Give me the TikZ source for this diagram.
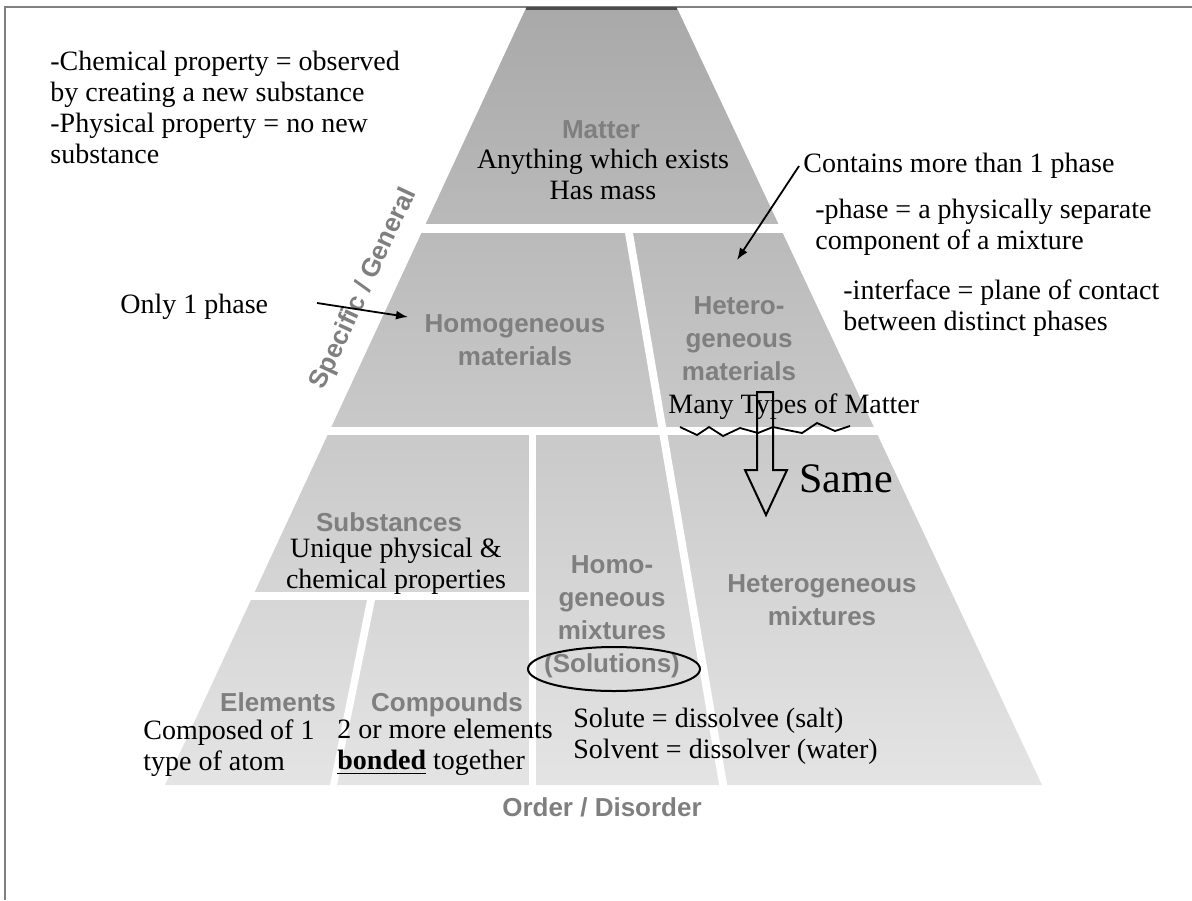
\documentclass[tikz,border=0pt]{standalone}
\usepackage{fontspec}
\setmainfont{Liberation Serif}
\newfontfamily\pyrfont{Liberation Sans}
\usepackage{tikz}
\usetikzlibrary{arrows.meta}
\definecolor{pyrtop}{HTML}{A9A9A9}
\definecolor{pyrbot}{HTML}{E4E4E4}
\definecolor{pyrtext}{HTML}{7F7F7F}
\tikzset{
  lbl/.style={font=\pyrfont\bfseries\fontsize{13}{16.5}\selectfont, text=pyrtext, align=center, inner sep=0pt},
  note/.style={font=\fontsize{14}{15.5}\selectfont, inner sep=0pt},
  ptr/.style={-{Latex[length=6pt,width=4.5pt]}, line width=0.9pt}
}

\begin{document}
\begin{tikzpicture}[x=0.5pt,y=-0.5pt]
\useasboundingbox (0,0) rectangle (1192,900);
\draw[line width=1.2pt, gray] (5,900) -- (5,7) -- (1192,7);
\shade[top color=pyrtop, bottom color=pyrbot] (526,8) -- (677,8) -- (1042,785) -- (165,785) -- cycle;
\draw[line width=1.5pt, gray!60!black] (526,8) -- (677,8);
\fill[white] (100,224) rectangle (1100,233);
\fill[white] (100,427) rectangle (1100,435);
\fill[white] (625,233) -- (633,233) -- (728,790) -- (720,790) -- cycle;
\fill[white] (529,435) rectangle (536,790);
\fill[white] (100,592) rectangle (536,600);
\fill[white] (367,600) -- (375,600) -- (336,790) -- (329,790) -- cycle;

\node[lbl] (matter) at (601,130) {Matter};
\node[lbl] (homomat) at (515,340) {Homogeneous\\materials};
\node[lbl] (hetmat) at (739,339) {Hetero-\\geneous\\materials};
\node[lbl] (subst) at (389,522) {Substances};
\node[lbl] (homomix) at (612,617) {Homo-\\geneous\\mixtures\\(Solutions)};
\node[lbl] (hetmix) at (822,600) {Heterogeneous\\mixtures};
\node[lbl, anchor=base] (elem) at (278,711) {Elements};
\node[lbl, anchor=base] (comp) at (447,711) {Compounds};
\node[lbl] (order) at (602,807) {Order / Disorder};
\node[lbl, rotate=65] (specific) at (364,289) {Specific / General};

\node[note, align=left, anchor=north west] (props) at (50,51) {-Chemical property = observed\\by creating a new substance\\-Physical property = no new\\substance};
\node[note, align=center, anchor=north] (exists) at (603,149) {Anything which exists\\Has mass};
\node[note, anchor=base west] (contains) at (803,172) {Contains more than 1 phase};
\node[note, align=left, anchor=north west] (phase) at (815,199) {-phase = a physically separate\\component of a mixture};
\node[note, align=left, anchor=north west] (interface) at (843,279) {-interface = plane of contact\\between distinct phases};
\node[note, anchor=base west] (onephase) at (120,313) {Only 1 phase};
\node[note, anchor=base west] (many) at (668,413) {Many Types of Matter};
\node[note, anchor=base west, font=\fontsize{21}{24}\selectfont] (same) at (799,492) {Same};
\node[note, align=center, anchor=north] (unique) at (396,538) {Unique physical \&\\chemical properties};
\node[note, align=left, anchor=north west] (composed) at (143,719) {Composed of 1\\type of atom};
\node[note, align=left, anchor=north west] (twoormore) at (337,719) {2 or more elements\\\underline{\textbf{bonded}} together};
\node[note, align=left, anchor=north west] (solute) at (573,708) {Solute = dissolvee (salt)\\Solvent = dissolver (water)};

\coordinate (onetail) at (317,303);
\coordinate (onehead) at (408,317);
\coordinate (conttail) at (799,166);
\coordinate (conthead) at (737,260);
\draw[ptr] (onetail) -- (onehead);
\draw[ptr] (conttail) -- (conthead);
\draw[line width=1pt] (614,669) ellipse [x radius=43pt, y radius=11pt];
\draw[line width=0.9pt] (680,427) -- (697,435) -- (709,427) -- (723,436) -- (740,428) -- (758,433) -- (773,427) -- (787,430) -- (802,433) -- (817,423) -- (835,431) -- (850,426);
\draw[line width=1pt] (757,392) -- (773,392) -- (773,470) -- (787,470) -- (766,515) -- (745,470) -- (757,470) -- cycle;
\end{tikzpicture}
\end{document}
